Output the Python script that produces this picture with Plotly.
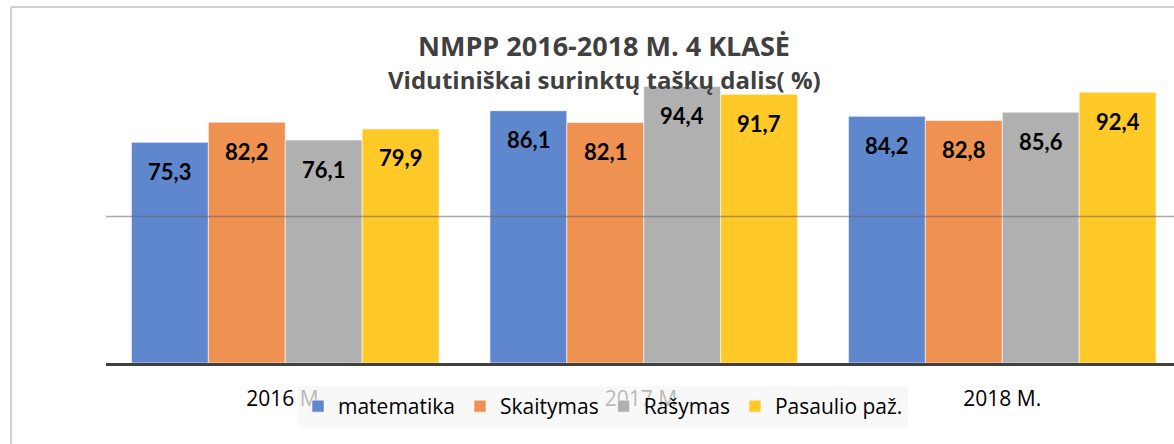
import plotly.graph_objects as go

categories = ["2016 M.", "2017 M.", "2018 M."]
series_names = ["matematika", "Skaitymas", "Rašymas", "Pasaulio paž."]
matematika = [75.3, 86.1, 84.2]
skaitymas = [82.2, 82.1, 82.8]
rasymas = [76.1, 94.4, 85.6]
pasaulio = [79.9, 91.7, 92.4]
colors = ["#5F87CD", "#EF9150", "#B0B0B0", "#FFC928"]

series_values = [matematika, skaitymas, rasymas, pasaulio]

W, H = 1174, 444
ML, MR, MT, MB = 106, 0, 70, 81
plot_w = W - ML - MR
plot_h = H - MT - MB
unit_px = 358.5
x_range = [-0.5, -0.5 + plot_w / unit_px]
bargap = 0.142
bar_px = unit_px * (1 - bargap) / len(series_names)

LBL_FONT = "Lato"
TXT_FONT = "Open Sans"

def px_x(p):
    return (p - ML) / plot_w

def px_y(p):
    return (H - MB - p) / plot_h

fig = go.Figure()
for name, vals, col in zip(series_names, series_values, colors):
    fig.add_trace(go.Bar(
        x=categories, y=vals, name=name,
        marker=dict(color=col, line=dict(color="rgba(255,255,255,0.6)", width=1)),
    ))

annotations = []
n = len(series_names)
for i, vals in enumerate(series_values):
    for cat, v in zip(categories, vals):
        annotations.append(dict(
            x=cat, y=v, xref="x", yref="y",
            text=f"{v:.1f}".replace(".", ","),
            showarrow=False, xshift=(i - (n - 1) / 2) * bar_px, yshift=-29,
            font=dict(family=LBL_FONT, size=22, color="black", weight="bold"),
            xanchor="center", yanchor="middle",
        ))

annotations.append(dict(
    x=px_x(604), y=px_y(45), xref="paper", yref="paper",
    text="<b>NMPP 2016-2018 M. 4 KLASĖ</b>", showarrow=False,
    font=dict(family=TXT_FONT, size=27, color="#404040"),
    xanchor="center", yanchor="middle",
))
annotations.append(dict(
    x=px_x(604), y=px_y(80), xref="paper", yref="paper",
    text="<b>Vidutiniškai surinktų taškų dalis( %)</b>", showarrow=False,
    font=dict(family=TXT_FONT, size=24, color="#404040"),
    xanchor="center", yanchor="middle",
))

shapes = [
    dict(type="line", xref="paper", yref="y", x0=0, x1=1, y0=50, y1=50,
         line=dict(color="rgba(100,100,100,0.55)", width=1.5), layer="above"),
    dict(type="line", xref="paper", yref="paper", x0=px_x(11), x1=px_x(11),
         y0=px_y(7), y1=px_y(460), line=dict(color="#D0D0D0", width=2), layer="above"),
    dict(type="line", xref="paper", yref="paper", x0=px_x(11), x1=px_x(1200),
         y0=px_y(7), y1=px_y(7), line=dict(color="#D0D0D0", width=2), layer="above"),
]

fig.update_layout(
    width=W, height=H,
    margin=dict(l=ML, r=MR, t=MT, b=MB, pad=0),
    paper_bgcolor="white", plot_bgcolor="white",
    barmode="group", bargap=bargap, bargroupgap=0,
    showlegend=True,
    legend=dict(
        orientation="h", x=px_x(603), xanchor="center", y=px_y(386), yanchor="top",
        bgcolor="rgba(246,246,246,0.75)", font=dict(family=TXT_FONT, size=21, color="black"),
        itemwidth=30, traceorder="normal",
    ),
    xaxis=dict(
        range=x_range, showgrid=False, showline=True, linecolor="#404040", linewidth=3,
        ticks="", ticklabelstandoff=15, tickfont=dict(family=TXT_FONT, size=21, color="black"),
        fixedrange=True,
    ),
    yaxis=dict(
        range=[0, 100], tickvals=[100], showgrid=True, gridcolor="#D9D9D9", gridwidth=1,
        showticklabels=False, zeroline=False, showline=False, fixedrange=True,
    ),
    annotations=annotations,
    shapes=shapes,
    font=dict(family=TXT_FONT),
)

fig.write_html(
    "out.html",
    config={"displayModeBar": False},
    post_script="document.body.style.margin='0';document.body.style.overflow='hidden';",
)
